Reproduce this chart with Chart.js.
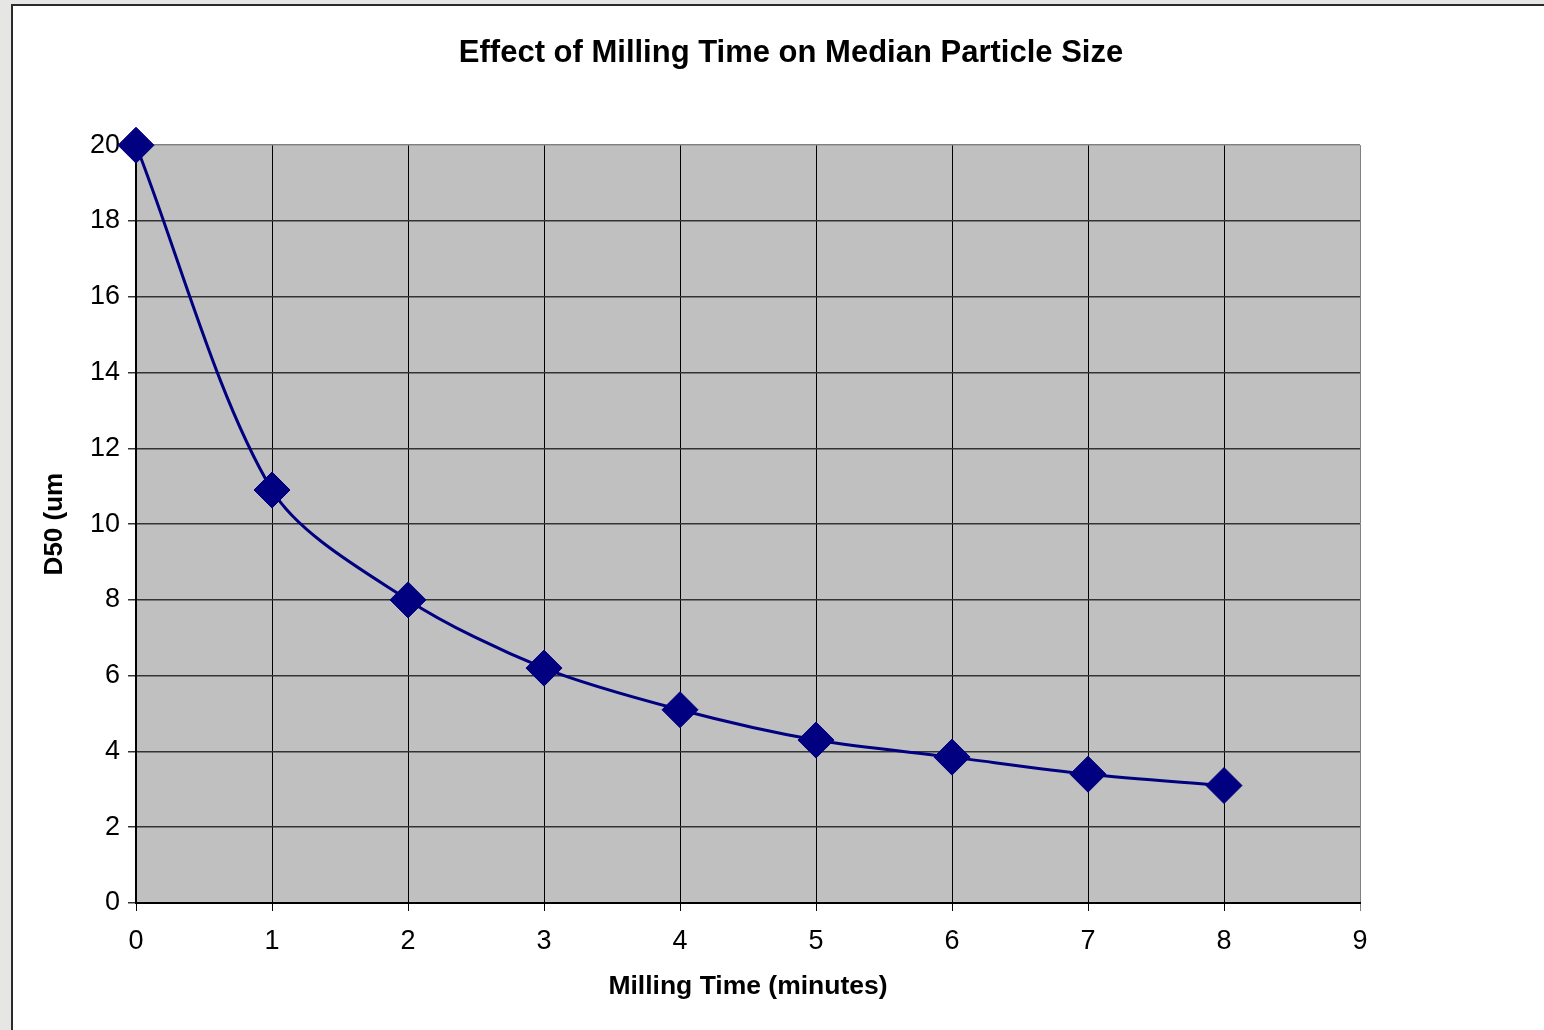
<!DOCTYPE html>
<html>
<head>
<meta charset="utf-8">
<title>Effect of Milling Time on Median Particle Size</title>
<script src="https://cdn.jsdelivr.net/npm/chart.js@4.4.1/dist/chart.umd.min.js"></script>
<style>
  html, body { margin: 0; padding: 0; overflow: hidden; background: #e6e6e4; }
  #frame {
    position: absolute; left: 11px; top: 4px; width: 1600px; height: 1100px;
    background: #fff; border-top: 2px solid #2b2b2b; border-left: 2px solid #2b2b2b;
  }
  #chart { display: block; }
</style>
</head>
<body>
<div id="frame"><canvas id="chart" width="1560" height="1024"></canvas></div>
<script>
// values
const millingTime = [0, 1, 2, 3, 4, 5, 6, 7, 8];
const d50 = [20, 10.9, 8.0, 6.2, 5.1, 4.3, 3.85, 3.4, 3.1];

const xMin = 0, xMax = 9, xStep = 1;
const yMin = 0, yMax = 20, yStep = 2;

const FONT = "'Liberation Sans', Arial, sans-serif";

// grey plot area like the old Excel default
const plotBackground = {
  id: 'plotBackground',
  beforeDraw(chart) {
    const { ctx, chartArea: a } = chart;
    ctx.save();
    ctx.fillStyle = '#c0c0c0';
    ctx.fillRect(a.left, a.top, a.right - a.left, a.bottom - a.top);
    ctx.restore();
  }
};

const points = millingTime.map((t, i) => ({ x: t, y: d50[i] }));

new Chart(document.getElementById('chart'), {
  type: 'line',
  data: {
    datasets: [{
      label: 'D50',
      data: points,
      borderColor: '#000080',
      backgroundColor: '#000080',
      borderWidth: 3,
      tension: 0.3,
      pointStyle: 'rectRot',
      pointRadius: 18,
      pointBorderWidth: 1,
      pointHoverRadius: 18,
      clip: false
    }]
  },
  options: {
    responsive: false,
    animation: false,
    events: [],
    layout: { padding: { left: 22, right: 26, top: 0, bottom: 23 } },
    plugins: {
      legend: { display: false },
      tooltip: { enabled: false },
      title: {
        display: true,
        text: 'Effect of Milling Time on Median Particle Size',
        color: '#000',
        font: { family: FONT, size: 31, weight: 'bold' },
        padding: { top: 29, bottom: 73 }
      }
    },
    scales: {
      x: {
        type: 'linear',
        min: xMin, max: xMax,
        afterFit(s) { s.height = 104; },
        ticks: {
          stepSize: xStep,
          color: '#000',
          padding: 14,
          maxRotation: 0,
          font: { family: FONT, size: 27 }
        },
        grid: {
          color: c => (c.tick && c.tick.value === xMax ? '#808080' : '#000'),
          lineWidth: 1,
          tickLength: 8
        },
        border: { color: '#000', width: 2 },
        title: {
          display: true,
          text: 'Milling Time (minutes)',
          color: '#000',
          font: { family: FONT, size: 26.5, weight: 'bold' },
          padding: { top: 4, bottom: 4 }
        }
      },
      y: {
        min: yMin, max: yMax,
        afterFit(s) { s.width = 101; },
        ticks: {
          stepSize: yStep,
          color: '#000',
          padding: 8,
          font: { family: FONT, size: 27 }
        },
        grid: {
          color: c => (c.tick && c.tick.value === yMax ? '#808080' : '#333'),
          lineWidth: 1.5,
          tickLength: 8
        },
        border: { color: '#000', width: 2 },
        title: {
          display: true,
          text: 'D50 (um',
          color: '#000',
          font: { family: FONT, size: 26, weight: 'bold' },
          padding: { top: 4, bottom: 4 }
        }
      },
      // empty spacer on the right so the title stays centred on the whole frame
      spacer: {
        type: 'linear',
        position: 'right',
        display: true,
        afterFit(s) { s.width = 187; },
        ticks: { display: false },
        grid: { display: false },
        border: { display: false }
      }
    }
  },
  plugins: [plotBackground]
});
</script>
</body>
</html>
